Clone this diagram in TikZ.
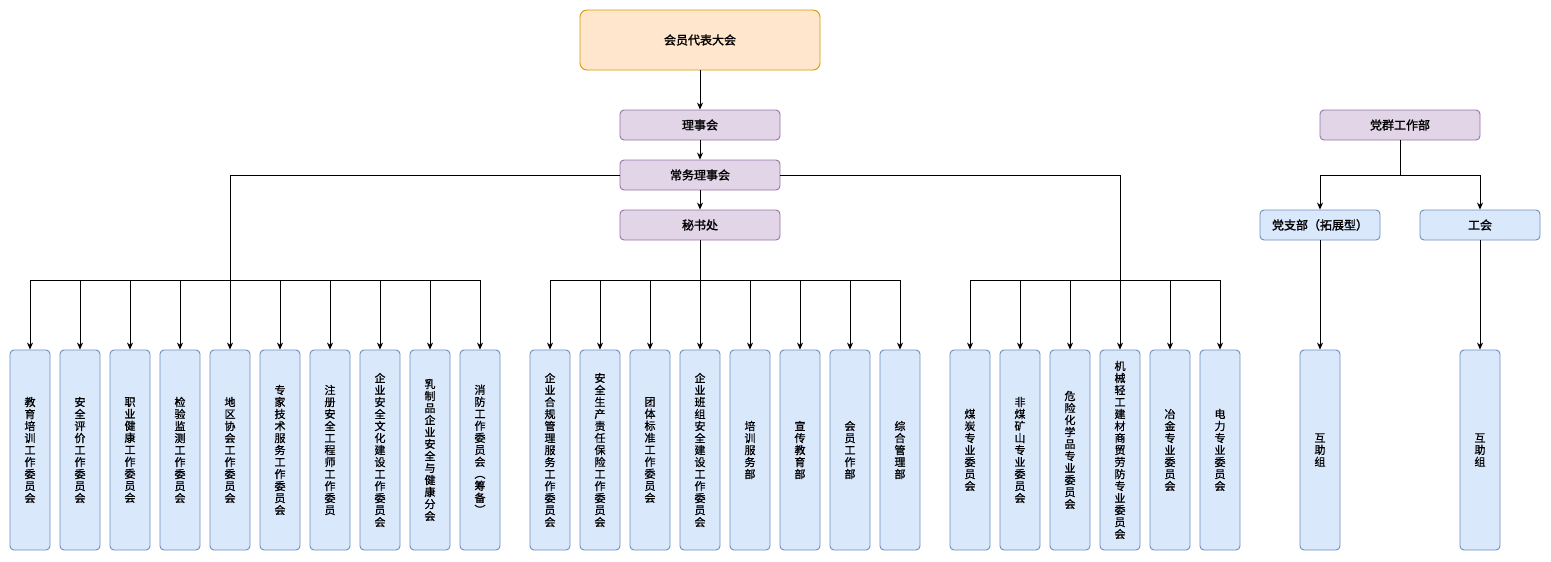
\documentclass[tikz,border=0pt]{standalone}
\usepackage{fontspec}
\usepackage{graphicx}
\newfontfamily\cjk[AutoFakeBold=1.6]{Noto Sans CJK SC}
\newfontfamily\cjkm[AutoFakeBold=0.9]{Noto Sans CJK SC}
\usetikzlibrary{arrows.meta}
\definecolor{bfill}{HTML}{DAE8FC}
\definecolor{bdraw}{HTML}{6C8EBF}
\definecolor{pfill}{HTML}{E1D5E7}
\definecolor{pdraw}{HTML}{9673A6}
\definecolor{ofill}{HTML}{FFE6CC}
\definecolor{odraw}{HTML}{D79B00}
\newcommand{\rl}{\rotatebox[origin=c]{-90}{（}}
\newcommand{\rr}{\rotatebox[origin=c]{-90}{）}}
\tikzset{
  basebox/.style={rectangle, rounded corners=4pt, line width=0.9pt, inner sep=0pt, anchor=center},
  topbox/.style={basebox, rounded corners=7pt, fill=ofill, draw=odraw, minimum width=240pt, minimum height=60pt, font=\cjk\bfseries\fontsize{12}{14}\selectfont},
  purplebox/.style={basebox, fill=pfill, draw=pdraw, minimum width=160pt, minimum height=30pt, font=\cjk\bfseries\fontsize{12}{14}\selectfont},
  bluebox/.style={basebox, fill=bfill, draw=bdraw, minimum width=120pt, minimum height=30pt, font=\cjk\bfseries\fontsize{12}{14}\selectfont},
  vbox/.style={basebox, fill=bfill, draw=bdraw, minimum width=40pt, minimum height=200pt, align=center, font=\cjkm\bfseries\fontsize{11}{12}\selectfont},
  arr/.style={-{Stealth[length=7pt,width=6pt]}, line width=0.9pt, black},
  ln/.style={line width=0.9pt, black}
}
\begin{document}
\begin{tikzpicture}[x=1pt,y=-1pt]
\useasboundingbox (0,0) rectangle (1551,562);
% top hierarchy
\node[topbox] (dh) at (700,40) {会员代表大会};
\node[purplebox] (lsh) at (700,125) {理事会};
\node[purplebox] (cw) at (700,175) {常务理事会};
\node[purplebox] (msc) at (700,225) {秘书处};
\node[purplebox] (dq) at (1400,125) {党群工作部};
\node[bluebox] (dzb) at (1320,225) {党支部（拓展型）};
\node[bluebox] (gh) at (1480,225) {工会};
% left group
\node[vbox] (L1) at (30,450) {教\\育\\培\\训\\工\\作\\委\\员\\会};
\node[vbox] (L2) at (80,450) {安\\全\\评\\价\\工\\作\\委\\员\\会};
\node[vbox] (L3) at (130,450) {职\\业\\健\\康\\工\\作\\委\\员\\会};
\node[vbox] (L4) at (180,450) {检\\验\\监\\测\\工\\作\\委\\员\\会};
\node[vbox] (L5) at (230,450) {地\\区\\协\\会\\工\\作\\委\\员\\会};
\node[vbox] (L6) at (280,450) {专\\家\\技\\术\\服\\务\\工\\作\\委\\员\\会};
\node[vbox] (L7) at (330,450) {注\\册\\安\\全\\工\\程\\师\\工\\作\\委\\员};
\node[vbox] (L8) at (380,450) {企\\业\\安\\全\\文\\化\\建\\设\\工\\作\\委\\员\\会};
\node[vbox] (L9) at (430,450) {乳\\制\\品\\企\\业\\安\\全\\与\\健\\康\\分\\会};
\node[vbox] (L10) at (480,450) {消\\防\\工\\作\\委\\员\\会\\\rl\\筹\\备\\\rr};
% middle group
\node[vbox] (M1) at (550,450) {企\\业\\合\\规\\管\\理\\服\\务\\工\\作\\委\\员\\会};
\node[vbox] (M2) at (600,450) {安\\全\\生\\产\\责\\任\\保\\险\\工\\作\\委\\员\\会};
\node[vbox] (M3) at (650,450) {团\\体\\标\\准\\工\\作\\委\\员\\会};
\node[vbox] (M4) at (700,450) {企\\业\\班\\组\\安\\全\\建\\设\\工\\作\\委\\员\\会};
\node[vbox] (M5) at (750,450) {培\\训\\服\\务\\部};
\node[vbox] (M6) at (800,450) {宣\\传\\教\\育\\部};
\node[vbox] (M7) at (850,450) {会\\员\\工\\作\\部};
\node[vbox] (M8) at (900,450) {综\\合\\管\\理\\部};
% right group
\node[vbox] (R1) at (970,450) {煤\\炭\\专\\业\\委\\员\\会};
\node[vbox] (R2) at (1020,450) {非\\煤\\矿\\山\\专\\业\\委\\员\\会};
\node[vbox] (R3) at (1070,450) {危\\险\\化\\学\\品\\专\\业\\委\\员\\会};
\node[vbox] (R4) at (1120,450) {机\\械\\轻\\工\\建\\材\\商\\贸\\劳\\防\\专\\业\\委\\员\\会};
\node[vbox] (R5) at (1170,450) {冶\\金\\专\\业\\委\\员\\会};
\node[vbox] (R6) at (1220,450) {电\\力\\专\\业\\委\\员\\会};
% party group
\node[vbox] (H1) at (1320,450) {互\\助\\组};
\node[vbox] (H2) at (1480,450) {互\\助\\组};
% bus coordinates
\coordinate (lbus) at (230,280);
\coordinate (mbus) at (700,280);
\coordinate (rbus) at (1120,280);
\coordinate (pbus) at (1400,175);
% connectors
\draw[arr] (dh) -- (lsh);
\draw[arr] (lsh) -- (cw);
\draw[arr] (cw) -- (msc);
\draw[ln] (cw.west) -| (lbus);
\foreach \i in {1,...,10} {\draw[arr] (lbus) -| (L\i.north);}
\draw[ln] (msc.south) -- (mbus);
\foreach \i in {1,...,8} {\draw[arr] (mbus) -| (M\i.north);}
\draw[ln] (cw.east) -| (rbus);
\foreach \i in {1,...,6} {\draw[arr] (rbus) -| (R\i.north);}
\draw[ln] (dq.south) -- (pbus);
\draw[arr] (pbus) -| (dzb.north);
\draw[arr] (pbus) -| (gh.north);
\draw[arr] (dzb.south) -- (H1.north);
\draw[arr] (gh.south) -- (H2.north);
\end{tikzpicture}
\end{document}
